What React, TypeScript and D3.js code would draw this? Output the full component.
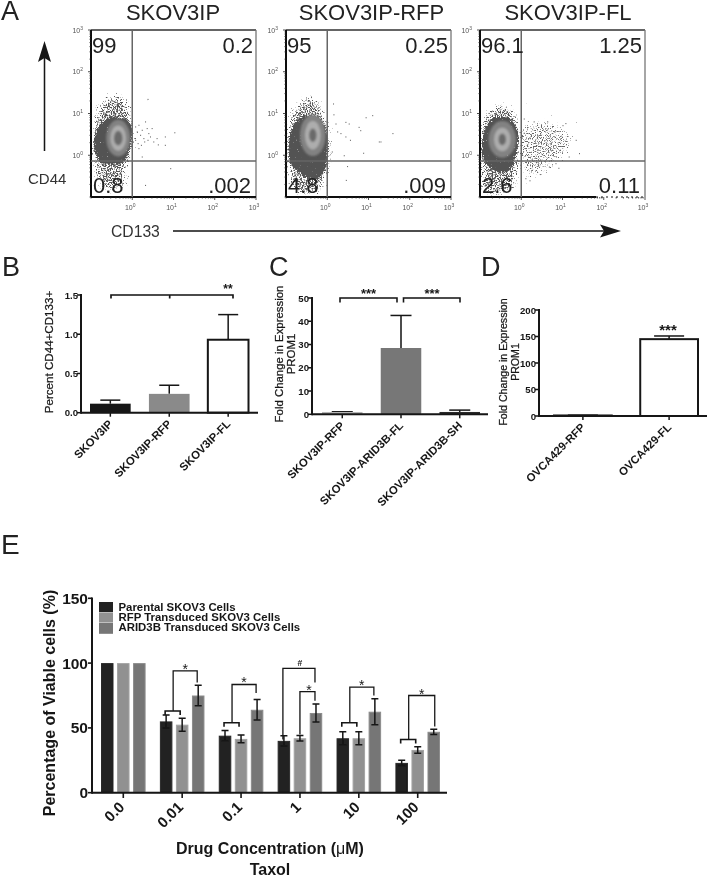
import React from "react";
import * as d3 from "d3";

const FONT = "'Liberation Sans', Arial, sans-serif";

// ---------- Panel A: flow plots (log10 units) ----------
type P = [number, number];
const flowTitles = ["SKOV3IP", "SKOV3IP-RFP", "SKOV3IP-FL"];
const flowQuadrants = [
  ["99", "0.2", "0.8", ".002"],
  ["95", "0.25", "4.8", ".009"],
  ["96.1", "1.25", "2.6", "0.11"],
];
const flowLefts = [91, 286, 480];
const flowTitleShift = [0, 3.5, 6];
const flowOuter: P[][] = [
  [[-.9,1.04],[-.7,1.32],[-.42,1.46],[-.13,1.32],[-.01,.88],[.07,.48],[-.05,-.07],[-.13,-.39],[-.18,-.78],[-.66,-.87],[-.9,-.55],[-.94,.09]],
  [[-.94,.84],[-.74,1.24],[-.37,1.44],[-.13,1.16],[.03,.6],[.11,-.03],[-.05,-.59],[-.17,-.9],[-.82,-.9],[-.97,-.19]],
  [[-.94,.84],[-.63,1.2],[-.27,1.2],[-.07,.77],[-.02,.29],[-.07,-.27],[-.11,-.67],[-.31,-.91],[-.92,-.91],[-.98,-.03]],
];
const flowBody: P[][] = [
  [[-.92,.48],[-.74,.8],[-.34,.92],[-.05,.77],[.01,.48],[-.1,0],[-.26,-.19],[-.74,-.19],[-.92,.09]],
  [[-.92,.44],[-.74,.84],[-.33,.96],[-.09,.77],[.03,.37],[-.01,-.11],[-.09,-.43],[-.33,-.59],[-.66,-.43],[-.9,-.19]],
  [[-.92,.53],[-.71,.88],[-.35,.92],[-.1,.65],[-.07,.2],[-.19,-.19],[-.31,-.39],[-.63,-.39],[-.92,-.11]],
];
const flowCentres: P[] = [[-.34,.41],[-.35,.48],[-.46,.38]];
const flowMidRadii: P[] = [[.29,.44],[.31,.5],[.33,.44]];
const flowLightRadii: P[] = [[.19,.3],[.19,.34],[.2,.28]];
const flowCoreRadii: P[] = [[.105,.175],[.09,.16],[.09,.14]];
const flowTail: P[][] = [
  [],
  [],
  [[-.02,.68],[.59,.84],[1.2,.53],[1.24,.17],[.83,-.19],[.18,-.59],[-.02,-.35]],
];
const flowDots: P[][] = [
  [[.07,.69],[.11,.57],[.15,.73],[.19,.49],[.23,.61],[.27,.41],[.31,.81],[.35,.65],[.39,.53],[.43,.45],[.47,.65],[.07,.37],[.13,.29],[.21,.25],[.29,.33],[.37,.37],[.51,.33],[.59,.41],[.62,.26],[.79,.45],[1.02,.55],[.79,.25],[.92,-.31],[.31,-.71],[.37,1.35],[.23,-.03],[.15,.17]],
  [[.14,1.24],[.15,.98],[.2,.76],[.24,.57],[.32,.53],[.44,.8],[.52,.76],[.44,.45],[.55,.37],[.8,.6],[.93,.91],[1.09,.96],[1.25,.33],[.4,0],[.48,-.26],[.45,-.59],[.11,.09],[.76,.68],[1.58,.53],[1.29,.33],[.87,.06]],
  [[1.4,.05],[1.32,.37],[1.07,.77],[.63,.81],[.3,.81],[.06,.88],[.1,-.55],[.67,-.27],[1.15,-.03],[.26,-.35],[.83,-.19],[.9,-.3],[.45,-.45],[1.0,.72],[.2,-.6]],
];

// ---------- Panel B ----------
const bCategories = ["SKOV3IP", "SKOV3IP-RFP", "SKOV3IP-FL"];
const bValues = [0.115, 0.24, 0.93];
const bUpper = [0.16, 0.35, 1.25];
const bTicks = [0, 0.5, 1, 1.5];

// ---------- Panel C ----------
const cCategories = ["SKOV3IP-RFP", "SKOV3IP-ARID3B-FL", "SKOV3IP-ARID3B-SH"];
const cValues = [1, 28.5, 1];
const cUpper = [1.1, 42.5, 1.8];
const cTicks = [0, 10, 20, 30, 40, 50];

// ---------- Panel D ----------
const dCategories = ["OVCA429-RFP", "OVCA429-FL"];
const dValues = [1, 145];
const dUpper = [1.5, 151];
const dTicks = [0, 50, 100, 150, 200];

// ---------- Panel E ----------
const eDoses = ["0.0", "0.01", "0.1", "1", "10", "100"];
const eSeriesNames = ["Parental SKOV3 Cells", "RFP Transduced SKOV3 Cells", "ARID3B Transduced SKOV3 Cells"];
const eParental = [100, 55, 44, 40, 42, 23];
const eRfp = [100, 52.5, 41.5, 42, 42, 33];
const eArid = [100, 75, 64, 61.5, 62.5, 47];
const eParentalErr = [0, 5, 4, 4, 5, 2];
const eRfpErr = [0, 5, 3, 2.2, 5, 2.5];
const eAridErr = [0, 8, 8, 7, 10, 2];
const eTicks = [0, 50, 100, 150];
// group index, lower-bracket level, top level, right-foot level
const eSigGroups = [1, 2, 4, 5];
const eSigLower = [63, 54, 54, 41];
const eSigTop = [94, 83.5, 81.5, 75];
const eSigFoot = [85, 77, 75, 51];

const BLACK = "#161616";
const eColors = ["#202020", "#919191", "#767676"];
const eEdges = ["#2a2a2a", "#a4a4a4", "#8c8c8c"];

const Txt = (p: any) => <text fontFamily={FONT} fill={BLACK} {...p} />;

function Flow({ i }: { i: number }) {
  const left = flowLefts[i];
  const width = 165, top = 30, bottom = 197;
  const xs = d3.scaleLog().domain([0.1, 1000]).range([left, left + width]);
  const ys = d3.scaleLog().domain([0.1, 1000]).range([bottom, top]);
  const X = (l: number) => xs(Math.pow(10, l));
  const Y = (l: number) => ys(Math.pow(10, l));
  const blob = d3.line<P>().x(d => X(d[0])).y(d => Y(d[1])).curve(d3.curveCatmullRomClosed.alpha(0.5));
  const [cx, cy] = flowCentres[i];
  const ell = (r: P, fill: string) => (
    <ellipse cx={X(cx)} cy={Y(cy)} rx={X(cx + r[0]) - X(cx)} ry={Y(cy) - Y(cy + r[1])} fill={fill} />
  );
  const gateX = X(0), gateY = Y(-0.14);
  const majors = [0, 1, 2, 3];
  const minor = xs.ticks();
  const q = flowQuadrants[i];
  const sup = (e: number) => <>10<tspan dy={-3} fontSize={5}>{e}</tspan></>;
  const isMajor = (t: number) => majors.some(m => Math.abs(Math.pow(10, m) - t) < 1e-6);
  return (
    <g>
      <Txt x={left + 82 + flowTitleShift[i]} y={20} textAnchor="middle" fontSize={22} fill="#222">{flowTitles[i]}</Txt>
      <g clipPath={`url(#clip${i})`}>
        <path d={blob(flowOuter[i]) || ""} fill="#000" filter="url(#stipple)" />
        {flowTail[i].length > 0 && <path d={blob(flowTail[i]) || ""} fill="#000" filter="url(#stippleSparse)" />}
        <path d={blob(flowBody[i]) || ""} fill="#000" filter="url(#grainBody)" />
        <g filter="url(#soft)">
          {ell(flowMidRadii[i], "#828282")}
          {ell(flowLightRadii[i], "#adadad")}
          {ell(flowCoreRadii[i], "#6a6a6a")}
        </g>
        {flowDots[i].map((d, k) => <rect key={k} x={X(d[0])} y={Y(d[1])} width={1} height={1} fill="#555" />)}
      </g>
      {/* frame */}
      <line x1={left} x2={left + width} y1={top} y2={top} stroke="#333" strokeWidth={1.3} />
      <line x1={left + width} x2={left + width} y1={top} y2={bottom} stroke="#777" strokeWidth={1.3} />
      <line x1={left} x2={left} y1={top} y2={bottom} stroke="#111" strokeWidth={2} />
      {i === 2 ? (
        <>
          <line x1={left} x2={left + 116} y1={bottom} y2={bottom} stroke="#111" strokeWidth={2} />
          <line x1={left + 116} x2={left + width} y1={bottom} y2={bottom} stroke="#111" strokeWidth={1} strokeDasharray="2 3" />
        </>
      ) : (
        <line x1={left} x2={left + width} y1={bottom} y2={bottom} stroke="#111" strokeWidth={2} />
      )}
      {/* gates */}
      <line x1={gateX} x2={gateX} y1={top} y2={bottom} stroke="#666" strokeWidth={1.5} />
      <line x1={left} x2={left + width} y1={gateY} y2={gateY} stroke="#666" strokeWidth={1.5} />
      {/* ticks */}
      {minor.map((t, k) => (
        <g key={k} stroke="#222">
          <line x1={xs(t)} x2={xs(t)} y1={bottom} y2={bottom + (isMajor(t) ? 3 : 1.5)} strokeWidth={0.8} />
          <line y1={ys(t)} y2={ys(t)} x1={left} x2={left - (isMajor(t) ? 3 : 1.5)} strokeWidth={0.8} />
        </g>
      ))}
      {majors.map(m => (
        <Txt key={m} x={X(m) - 2} y={bottom + 13} textAnchor="middle" fontSize={7} fill="#555">{sup(m)}</Txt>
      ))}
      {majors.map(m => (
        <Txt key={m} x={left - 8} y={Y(m) + 2.5} textAnchor="end" fontSize={7} fill="#555">{sup(m)}</Txt>
      ))}
      <Txt x={left + 1} y={53} fontSize={22} fill="#222">{q[0]}</Txt>
      <Txt x={left + 162} y={53} textAnchor="end" fontSize={22} fill="#222">{q[1]}</Txt>
      <Txt x={left + 2} y={193} fontSize={22} fill="#222">{q[2]}</Txt>
      <Txt x={left + 160} y={193} textAnchor="end" fontSize={22} fill="#222">{q[3]}</Txt>
    </g>
  );
}

function Bars(props: {
  cats: string[]; vals: number[]; upper: number[]; ticks: number[]; fmt: (n: number) => string;
  xRange: [number, number]; pad: number; y0: number; yTop: number; yMax: number;
  axisL: number; axisR: number; fills: string[]; strokes: (string | null)[]; cap: number; labelDy: number;
}) {
  const { cats, vals, upper, ticks, fmt, xRange, pad, y0, yTop, yMax, axisL, axisR, fills, strokes, cap, labelDy } = props;
  const x = d3.scaleBand<string>().domain(cats).range(xRange).paddingInner(pad).paddingOuter(0);
  const y = d3.scaleLinear().domain([0, yMax]).range([y0, yTop]);
  return (
    <g>
      {cats.map((c, i) => {
        const bx = x(c) as number, bw = x.bandwidth(), cx = bx + bw / 2;
        return (
          <g key={c}>
            <line x1={cx} x2={cx} y1={y(vals[i])} y2={y(upper[i])} stroke={BLACK} strokeWidth={1.5} />
            <line x1={cx - cap / 2} x2={cx + cap / 2} y1={y(upper[i])} y2={y(upper[i])} stroke={BLACK} strokeWidth={1.5} />
            <rect x={bx} y={y(vals[i])} width={bw} height={y0 - y(vals[i])} fill={fills[i]}
              stroke={strokes[i] || "none"} strokeWidth={strokes[i] ? 2 : 0} />
            <line x1={cx} x2={cx} y1={y0} y2={y0 + 4} stroke={BLACK} strokeWidth={1.5} />
            <Txt x={cx + 3} y={y0 + labelDy} fontSize={11.3} fontWeight="bold" textAnchor="end"
              transform={`rotate(-45 ${cx + 3} ${y0 + labelDy})`}>{c}</Txt>
          </g>
        );
      })}
      <line x1={axisL} x2={axisL} y1={yTop - 1} y2={y0 + 1} stroke={BLACK} strokeWidth={2} />
      <line x1={axisL} x2={axisR} y1={y0} y2={y0} stroke={BLACK} strokeWidth={2} />
      {ticks.map(t => (
        <g key={t}>
          <line x1={axisL - 4} x2={axisL} y1={y(t)} y2={y(t)} stroke={BLACK} strokeWidth={1.5} />
          <Txt x={axisL - 3} y={y(t) + 3.5} textAnchor="end" fontSize={9.6} fontWeight="bold">{fmt(t)}</Txt>
        </g>
      ))}
    </g>
  );
}

const Bracket = ({ x1, x2, y, foot }: { x1: number; x2: number; y: number; foot: number }) => (
  <path d={`M${x1},${y + foot}V${y}H${x2}V${y + foot}`} fill="none" stroke={BLACK} strokeWidth={1.6} />
);

function PanelE() {
  const x0 = d3.scaleBand<string>().domain(eDoses).range([101, 440]).paddingInner(0.243).paddingOuter(0);
  const x1 = d3.scaleBand<string>().domain(eSeriesNames).range([0, x0.bandwidth()]).paddingInner(0.22).paddingOuter(0);
  const y = d3.scaleLinear().domain([0, 150]).range([792.7, 598.3]);
  const series = [eParental, eRfp, eArid];
  const errs = [eParentalErr, eRfpErr, eAridErr];
  const barCentre = (g: number, s: number) => (x0(eDoses[g]) as number) + (x1(eSeriesNames[s]) as number) + x1.bandwidth() / 2;
  return (
    <g>
      {eDoses.map((d, g) => (
        <g key={d}>
          {eSeriesNames.map((s, si) => {
            const bx = (x0(d) as number) + (x1(s) as number);
            const v = series[si][g], e = errs[si][g], cx = bx + x1.bandwidth() / 2;
            return (
              <g key={s}>
                <rect x={bx + 0.5} y={y(v) + 0.5} width={x1.bandwidth() - 1} height={792.7 - y(v) - 0.5} fill={eColors[si]} stroke={eEdges[si]} strokeWidth={1} />
                {e > 0 && (
                  <path d={`M${cx - 3.5},${y(v + e)}H${cx + 3.5}M${cx},${y(v + e)}V${y(v - e)}M${cx - 3.5},${y(v - e)}H${cx + 3.5}`}
                    fill="none" stroke={BLACK} strokeWidth={1.5} />
                )}
              </g>
            );
          })}
          <line x1={barCentre(g, 1)} x2={barCentre(g, 1)} y1={792.7} y2={798} stroke={BLACK} strokeWidth={1.6} />
          <Txt x={barCentre(g, 1) + 2} y={808} fontSize={15} fontWeight="bold" textAnchor="end"
            transform={`rotate(-45 ${barCentre(g, 1) + 2} 808)`}>{d}</Txt>
        </g>
      ))}
      <line x1={92} x2={92} y1={597.5} y2={793.7} stroke={BLACK} strokeWidth={2} />
      <line x1={92} x2={447} y1={792.7} y2={792.7} stroke={BLACK} strokeWidth={2} />
      {eTicks.map(t => (
        <g key={t}>
          <line x1={88} x2={92} y1={y(t)} y2={y(t)} stroke={BLACK} strokeWidth={1.6} />
          <Txt x={88} y={y(t) + 5.5} textAnchor="end" fontSize={15.5} fontWeight="bold">{t}</Txt>
        </g>
      ))}
      {/* significance brackets */}
      {eSigGroups.map((g, k) => {
        const lowL = barCentre(g, 0) - 1, lowR = barCentre(g, 1) - 2;
        const mid = (lowL + lowR) / 2 + 0.5;
        const right = barCentre(g, 2) - 1 + (g === 5 ? 2 : 0);
        const yLow = y(eSigLower[k]), yTop = y(eSigTop[k]), yFoot = y(eSigFoot[k]);
        return (
          <g key={g}>
            <Bracket x1={lowL} x2={lowR} y={yLow} foot={4} />
            <path d={`M${mid},${yLow}V${yTop}H${right}V${yFoot}`} fill="none" stroke={BLACK} strokeWidth={1.3} />
            <Txt x={(mid + right) / 2} y={yTop + 3} textAnchor="middle" fontSize={14}>*</Txt>
          </g>
        );
      })}
      {/* dose 1 has two nested brackets */}
      <path d={`M${barCentre(3, 0) - 1},${y(41)}V${y(96)}H${barCentre(3, 2) - 1}V${y(85)}`} fill="none" stroke={BLACK} strokeWidth={1.3} />
      <path d={`M${barCentre(3, 1)},${y(45)}V${y(78)}H${barCentre(3, 2) - 1}V${y(71)}`} fill="none" stroke={BLACK} strokeWidth={1.3} />
      <Txt x={barCentre(3, 1)} y={y(96) - 2} textAnchor="middle" fontSize={8.5} fontWeight="bold">#</Txt>
      <Txt x={barCentre(3, 1) + 9} y={y(78) + 3} textAnchor="middle" fontSize={14}>*</Txt>
      {/* legend */}
      {eSeriesNames.map((s, i) => (
        <g key={s}>
          <rect x={99} y={602 + i * 10.4} width={14} height={i === 2 ? 11 : 10} fill={eColors[i]} />
          <Txt x={118.5} y={611 + i * 10} fontSize={11.4} fontWeight="bold">{s}</Txt>
        </g>
      ))}
      <Txt x={55} y={703} fontSize={16} fontWeight="bold" textAnchor="middle" transform="rotate(-90 55 703)">Percentage of Viable cells (%)</Txt>
      <Txt x={270} y={854} fontSize={16} fontWeight="bold" textAnchor="middle">Drug Concentration (<tspan fontWeight="normal">{"\u03BC"}</tspan>M)</Txt>
      <Txt x={270} y={875} fontSize={16} fontWeight="bold" textAnchor="middle">Taxol</Txt>
    </g>
  );
}

const stippleFilter = (id: string, blur: number, weight: number, seed: number, colour: string) => (
  <filter id={id} x="-30%" y="-30%" width="160%" height="160%" colorInterpolationFilters="sRGB">
    <feGaussianBlur in="SourceAlpha" stdDeviation={blur} result="b" />
    <feTurbulence type="fractalNoise" baseFrequency="0.8" numOctaves="2" seed={seed} result="t" />
    <feColorMatrix in="t" type="matrix" values="0 0 0 0 0  0 0 0 0 0  0 0 0 0 0  1 0 0 0 0" result="n" />
    <feComposite in="n" in2="b" operator="arithmetic" k1="0" k2="1" k3={weight} k4="0" result="sum" />
    <feColorMatrix in="sum" type="matrix" values="0 0 0 0 0  0 0 0 0 0  0 0 0 0 0  0 0 0 7 -5.95" result="mask" />
    <feFlood floodColor={colour} result="f" />
    <feComposite in="f" in2="mask" operator="in" />
  </filter>
);

export default function App() {
  return (
    <svg width={713} height={877} viewBox="0 0 713 877" style={{ position: "absolute", left: 0, top: 0, background: "#fff" }}>
      <defs>
        {stippleFilter("stipple", 4, 0.42, 3, "#555")}
        {stippleFilter("stippleSparse", 6, 0.34, 8, "#666")}
        {stippleFilter("grainBody", 1.5, 0.7, 5, "#525252")}
        <filter id="soft"><feGaussianBlur stdDeviation="0.9" /></filter>
        <filter id="page" x="0" y="0" width="100%" height="100%"><feGaussianBlur stdDeviation="0.35" /></filter>
        {flowLefts.map((l, i) => (
          <clipPath id={`clip${i}`} key={i}><rect x={l} y={30} width={165} height={167} /></clipPath>
        ))}
      </defs>
      <g filter="url(#page)">
        <Txt x={1} y={20} fontSize={27} fill="#222">A</Txt>
        <Txt x={2} y={276} fontSize={27} fill="#222">B</Txt>
        <Txt x={269} y={276} fontSize={27} fill="#222">C</Txt>
        <Txt x={481} y={276} fontSize={27} fill="#222">D</Txt>
        <Txt x={1} y={554} fontSize={28} fill="#222">E</Txt>

        {flowLefts.map((_, i) => <Flow key={i} i={i} />)}

        <line x1={44.5} x2={44.5} y1={151} y2={55} stroke={BLACK} strokeWidth={1.5} />
        <path d="M44.5,41L51,62L44.5,58L38,62Z" fill={BLACK} />
        <Txt x={28} y={184} fontSize={15} fill="#333">CD44</Txt>
        <Txt x={111} y={237} fontSize={15.7} fill="#333">CD133</Txt>
        <line x1={173} x2={610} y1={231} y2={231} stroke={BLACK} strokeWidth={1.5} />
        <path d="M621,231L600,224.5L604,231L600,237.5Z" fill={BLACK} />

        {/* B */}
        <Bars cats={bCategories} vals={bValues} upper={bUpper} ticks={bTicks} fmt={d3.format(".1f")}
          xRange={[90, 248.5]} pad={0.31} y0={412.7} yTop={295} yMax={1.5} axisL={81} axisR={258}
          fills={["#181818", "#8a8a8a", "#fff"]} strokes={[null, null, BLACK]} cap={20} labelDy={12} />
        <path d="M111,298.5V295H233V298.5M169.7,295V298.5" fill="none" stroke={BLACK} strokeWidth={1.7} />
        <Txt x={228} y={293} textAnchor="middle" fontSize={12} fontWeight="bold">**</Txt>
        <Txt x={53} y={352} fontSize={11.6} stroke={BLACK} strokeWidth={0.25} textAnchor="middle" transform="rotate(-90 53 352)">Percent CD44+CD133+</Txt>

        {/* C */}
        <Bars cats={cCategories} vals={cValues} upper={cUpper} ticks={cTicks} fmt={d3.format("d")}
          xRange={[322, 480]} pad={0.31} y0={414.3} yTop={298} yMax={50} axisL={312} axisR={488}
          fills={["#b5b5b5", "#777", "#2a2a2a"]} strokes={[null, null, null]} cap={21} labelDy={12} />
        <Bracket x1={340} x2={397} y={298} foot={4.5} />
        <Bracket x1={403.5} x2={460} y={298} foot={4.5} />
        <Txt x={368.5} y={298} textAnchor="middle" fontSize={13} fontWeight="bold">***</Txt>
        <Txt x={432} y={298} textAnchor="middle" fontSize={13} fontWeight="bold">***</Txt>
        <g transform="rotate(-90 283 354)">
          <Txt x={283} y={354} fontSize={11.4} stroke={BLACK} strokeWidth={0.25} textAnchor="middle">Fold Change in Expression</Txt>
          <Txt x={283} y={366} fontSize={11.4} stroke={BLACK} strokeWidth={0.25} textAnchor="middle">PROM1</Txt>
        </g>

        {/* D */}
        <Bars cats={dCategories} vals={dValues} upper={dUpper} ticks={dTicks} fmt={d3.format("d")}
          xRange={[554, 698]} pad={0.33} y0={416} yTop={310} yMax={200} axisL={539} axisR={707}
          fills={["#222", "#fff"]} strokes={[BLACK, BLACK]} cap={30} labelDy={12} />
        <Txt x={668} y={335} textAnchor="middle" fontSize={15} fontWeight="bold">***</Txt>
        <g transform="rotate(-90 507 362)">
          <Txt x={507} y={362} fontSize={10.6} stroke={BLACK} strokeWidth={0.25} textAnchor="middle">Fold Change in Expression</Txt>
          <Txt x={507} y={374} fontSize={10.6} stroke={BLACK} strokeWidth={0.25} textAnchor="middle">PROM1</Txt>
        </g>

        <PanelE />
      </g>
    </svg>
  );
}
